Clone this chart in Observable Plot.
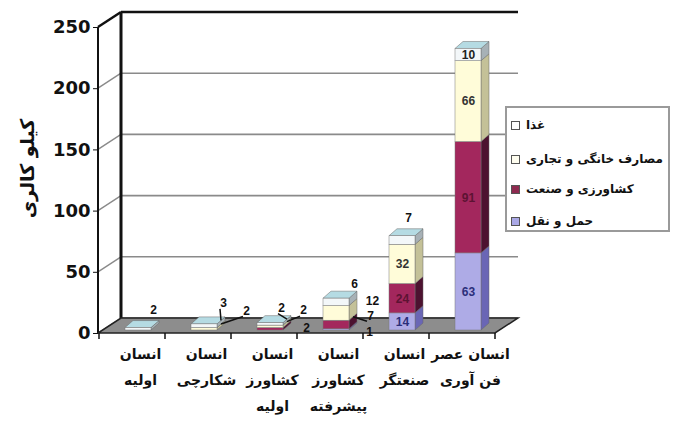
<!DOCTYPE html>
<html><head><meta charset="utf-8">
<script src="https://cdn.jsdelivr.net/npm/d3@7"></script>
<script src="https://cdn.jsdelivr.net/npm/@observablehq/plot@0.6"></script>
<style>
body{margin:0;background:#fff;}
#wrap{position:relative;width:675px;height:424px;overflow:hidden;}
#legend{position:absolute;left:505px;top:106px;width:165px;height:126px;border:2px solid #9a9a9a;box-sizing:border-box;background:#fff;font-family:"DejaVu Sans",sans-serif;font-weight:bold;font-size:12px;color:#111;}
.item{position:absolute;left:4px;display:flex;align-items:center;white-space:nowrap;}
.sw{width:7px;height:7px;border:1px solid #555;margin-right:6px;flex:none;}
</style></head><body><div id="wrap"></div>
<script>
// ---- data ----
const categories = ["انسان اولیه", "انسان شکارچی", "انسان کشاورز اولیه", "انسان کشاورز پیشرفته", "انسان صنعتگر", "انسان عصر فن آوری"];
const xTickLabels = ["انسان\nاولیه", "انسان\nشکارچی", "انسان\nکشاورز\nاولیه", "انسان\nکشاورز\nپیشرفته", "انسان\nصنعتگر", "انسان عصر\nفن آوری"];
const seriesNames = ["حمل و نقل", "کشاورزی و صنعت", "مصارف خانگی و تجاری", "غذا"]; // bottom -> top
const transport    = [0, 0, 0, 1, 14, 63];
const agriIndustry = [0, 0, 2, 7, 24, 91];
const household    = [0, 2, 2, 12, 32, 66];
const food         = [2, 3, 2, 6, 7, 10];
const yTicks = [0, 50, 100, 150, 200, 250];
const yTitle = "کیلو کالری";
const legendOrder = ["غذا", "مصارف خانگی و تجاری", "کشاورزی و صنعت", "حمل و نقل"];

// ---- styles ----
const seriesValues = [transport, agriIndustry, household, food];
const frontColors = ["#aeabe6", "#a3275d", "#fffcd9", "#f3f7f9"];
const sideColors  = ["#6a66b5", "#4d1230", "#c4c198", "#a7b1b6"];
const topColor = "#b5dbe3";
const labelColors = ["#2b2f7a", "#5c1333", "#333", "#222"];
const legendColors = {"غذا": "#ffffff", "مصارف خانگی و تجاری": "#fffef0", "کشاورزی و صنعت": "#8e2a50", "حمل و نقل": "#aaa8e6"};
const WALL = {dx: 23, dy: -15};
const BAR = {inset: 20, dx: 6, dy: -3, depthX: 8, depthY: -7};

const rows = [];
categories.forEach((c, i) => {
  let cum = 0;
  seriesNames.forEach((s, j) => {
    const v = seriesValues[j][i];
    if (v > 0) {
      rows.push({cat: c, ci: i, series: s, sj: j, value: v, y0: cum, y1: cum + v});
      cum += v;
    }
  });
  rows.filter(r => r.ci === i).slice(-1).forEach(r => r.top = true);
});

const outsideLabels = [
  {c: 0, s: "غذا", dx: 21, dy: -21},
  {c: 1, s: "غذا", dx: 25, dy: -24, leader: true},
  {c: 1, s: "مصارف خانگی و تجاری", dx: 48, dy: -20, leader: true},
  {c: 2, s: "غذا", dx: 17, dy: -18, leader: true},
  {c: 2, s: "مصارف خانگی و تجاری", dx: 39, dy: -18, leader: true},
  {c: 2, s: "کشاورزی و صنعت", dx: 42, dy: -3},
  {c: 3, s: "غذا", dx: 24, dy: -18},
  {c: 3, s: "مصارف خانگی و تجاری", dx: 42, dy: -8},
  {c: 3, s: "کشاورزی و صنعت", dx: 40, dy: -8, leader: true},
  {c: 3, s: "حمل و نقل", dx: 39, dy: 0},
  {c: 4, s: "غذا", dx: 12, dy: -21}
];
const isOutside = r => outsideLabels.some(o => o.c === r.ci && o.s === r.series);
const insideRows = rows.filter(r => !isOutside(r));

function scaffold(index, scales, values, dim) {
  const x = scales.x, y = scales.y;
  const x0 = dim.marginLeft, x1 = dim.width - dim.marginRight;
  const g = d3.create("svg:g");
  const y0 = y(0), yTop = y(d3.max(yTicks));
  for (const t of yTicks) {
    const last = t === d3.max(yTicks);
    g.append("line").attr("x1", x0 + WALL.dx).attr("x2", x1 + WALL.dx)
      .attr("y1", y(t) + WALL.dy).attr("y2", y(t) + WALL.dy)
      .attr("stroke", last ? "#111" : "#8a8a8a").attr("stroke-width", last ? 2.5 : 1.6);
    g.append("line").attr("x1", x0).attr("x2", x0 + WALL.dx)
      .attr("y1", y(t)).attr("y2", y(t) + WALL.dy)
      .attr("stroke", last ? "#111" : "#8a8a8a").attr("stroke-width", last ? 2.5 : 1.4);
  }
  g.append("line").attr("x1", x0 + WALL.dx).attr("x2", x0 + WALL.dx)
    .attr("y1", y0 + WALL.dy).attr("y2", yTop + WALL.dy).attr("stroke", "#111").attr("stroke-width", 3);
  g.append("line").attr("x1", x0).attr("x2", x0)
    .attr("y1", y0).attr("y2", yTop).attr("stroke", "#111").attr("stroke-width", 2);
  g.append("polygon")
    .attr("points", [[x0, y0], [x1, y0], [x1 + WALL.dx, y0 + WALL.dy], [x0 + WALL.dx, y0 + WALL.dy]].map(p => p.join(",")).join(" "))
    .attr("fill", "#8d8d8d").attr("stroke", "#222").attr("stroke-width", 1.5);
  const bw = x.bandwidth ? x.bandwidth() : (x1 - x0) / categories.length;
  const edges = categories.map(c => x(c)).concat([x(categories[categories.length - 1]) + bw]);
  for (const e of edges) {
    g.append("line").attr("x1", e).attr("x2", e).attr("y1", y0).attr("y2", y0 + 6)
      .attr("stroke", "#111").attr("stroke-width", 1.5);
  }
  return g.node();
}

function faces(index, scales, values, dim) {
  const x = scales.x, y = scales.y;
  const g = d3.create("svg:g");
  const bw = x.bandwidth ? x.bandwidth() : 66;
  for (const r of rows) {
    const xl = x(r.cat) + BAR.inset + BAR.dx, xr = x(r.cat) + bw - BAR.inset + BAR.dx;
    const yt = y(r.y1) + BAR.dy, yb = y(r.y0) + BAR.dy;
    g.append("polygon")
      .attr("points", [[xr, yt], [xr + BAR.depthX, yt + BAR.depthY], [xr + BAR.depthX, yb + BAR.depthY], [xr, yb]].map(p => p.join(",")).join(" "))
      .attr("fill", sideColors[r.sj]).attr("stroke", "#666").attr("stroke-width", 0.5);
    if (r.top) {
      g.append("polygon")
        .attr("points", [[xl, yt], [xl + BAR.depthX, yt + BAR.depthY], [xr + BAR.depthX, yt + BAR.depthY], [xr, yt]].map(p => p.join(",")).join(" "))
        .attr("fill", topColor).attr("stroke", "#666").attr("stroke-width", 0.5);
    }
  }
  return g.node();
}

function leaders(index, scales, values, dim) {
  const x = scales.x, y = scales.y;
  const g = d3.create("svg:g");
  const bw = x.bandwidth ? x.bandwidth() : 66;
  for (const o of outsideLabels.filter(o => o.leader)) {
    const r = rows.find(r => r.ci === o.c && r.series === o.s);
    const cx = x(r.cat) + bw / 2;
    const lx = cx + o.dx, ly = y(r.y1) + o.dy;
    const xr = x(r.cat) + bw - BAR.inset + BAR.dx;
    g.append("line").attr("x1", lx - 3).attr("y1", ly + 6)
      .attr("x2", xr + BAR.depthX / 2).attr("y2", y(r.y1) + BAR.dy + BAR.depthY / 2)
      .attr("stroke", "#111").attr("stroke-width", 1.5);
  }
  return g.node();
}

const labelFont = {fontSize: 12, fontWeight: "bold", fontFamily: "'Liberation Sans', Arial, sans-serif"};

const marks = [
  scaffold,
  faces,
  Plot.barY(rows, {x: "cat", y1: "y0", y2: "y1", fill: "series", insetLeft: BAR.inset, insetRight: BAR.inset, dx: BAR.dx, dy: BAR.dy, stroke: "#777", strokeWidth: 0.5}),
  Plot.axisY({ticks: yTicks, tickSize: 5, tickPadding: 3, fontSize: 18, fontWeight: "bold", fontFamily: "DejaVu Sans", label: null}),
  Plot.axisX({tickSize: 0, tickPadding: 7, tickFormat: d => xTickLabels[categories.indexOf(d)], fontSize: 14, fontWeight: "bold", fontFamily: "DejaVu Sans", lineHeight: 1.85, dx: 8, label: null}),
  Plot.text([yTitle], {text: d => d, frameAnchor: "left", textAnchor: "middle", rotate: -90, dx: -71, dy: -12, fontSize: 19, fontWeight: "bold", fontFamily: "DejaVu Sans"}),
  Plot.text(insideRows, {x: "cat", y: d => (d.y0 + d.y1) / 2, text: "value", dx: BAR.dx, dy: BAR.dy, fill: d => labelColors[d.sj], ...labelFont}),
  leaders,
  ...outsideLabels.map(o => Plot.text(rows.filter(r => r.ci === o.c && r.series === o.s), {x: "cat", y: "y1", text: "value", dx: o.dx, dy: o.dy, fill: "#111", ...labelFont}))
];

const plot = Plot.plot({
  width: 675, height: 424,
  marginLeft: 98, marginRight: 180, marginTop: 27, marginBottom: 91,
  x: {domain: categories, padding: 0},
  y: {domain: [0, 250]},
  color: {domain: seriesNames, range: frontColors},
  style: {fontFamily: "'Liberation Sans', Arial, sans-serif", background: "#fff", color: "#111", overflow: "visible"},
  marks
});
const wrap = document.getElementById("wrap");
wrap.appendChild(plot);

const legend = document.createElement("div");
legend.id = "legend";
const tops = [10, 44, 74, 106];
legendOrder.forEach((s, i) => {
  const it = document.createElement("div");
  it.className = "item";
  it.style.top = tops[i] + "px";
  const sw = document.createElement("span");
  sw.className = "sw";
  sw.style.background = legendColors[s];
  const tx = document.createElement("span");
  tx.textContent = s;
  it.appendChild(sw); it.appendChild(tx);
  legend.appendChild(it);
});
wrap.appendChild(legend);
</script></body></html>
